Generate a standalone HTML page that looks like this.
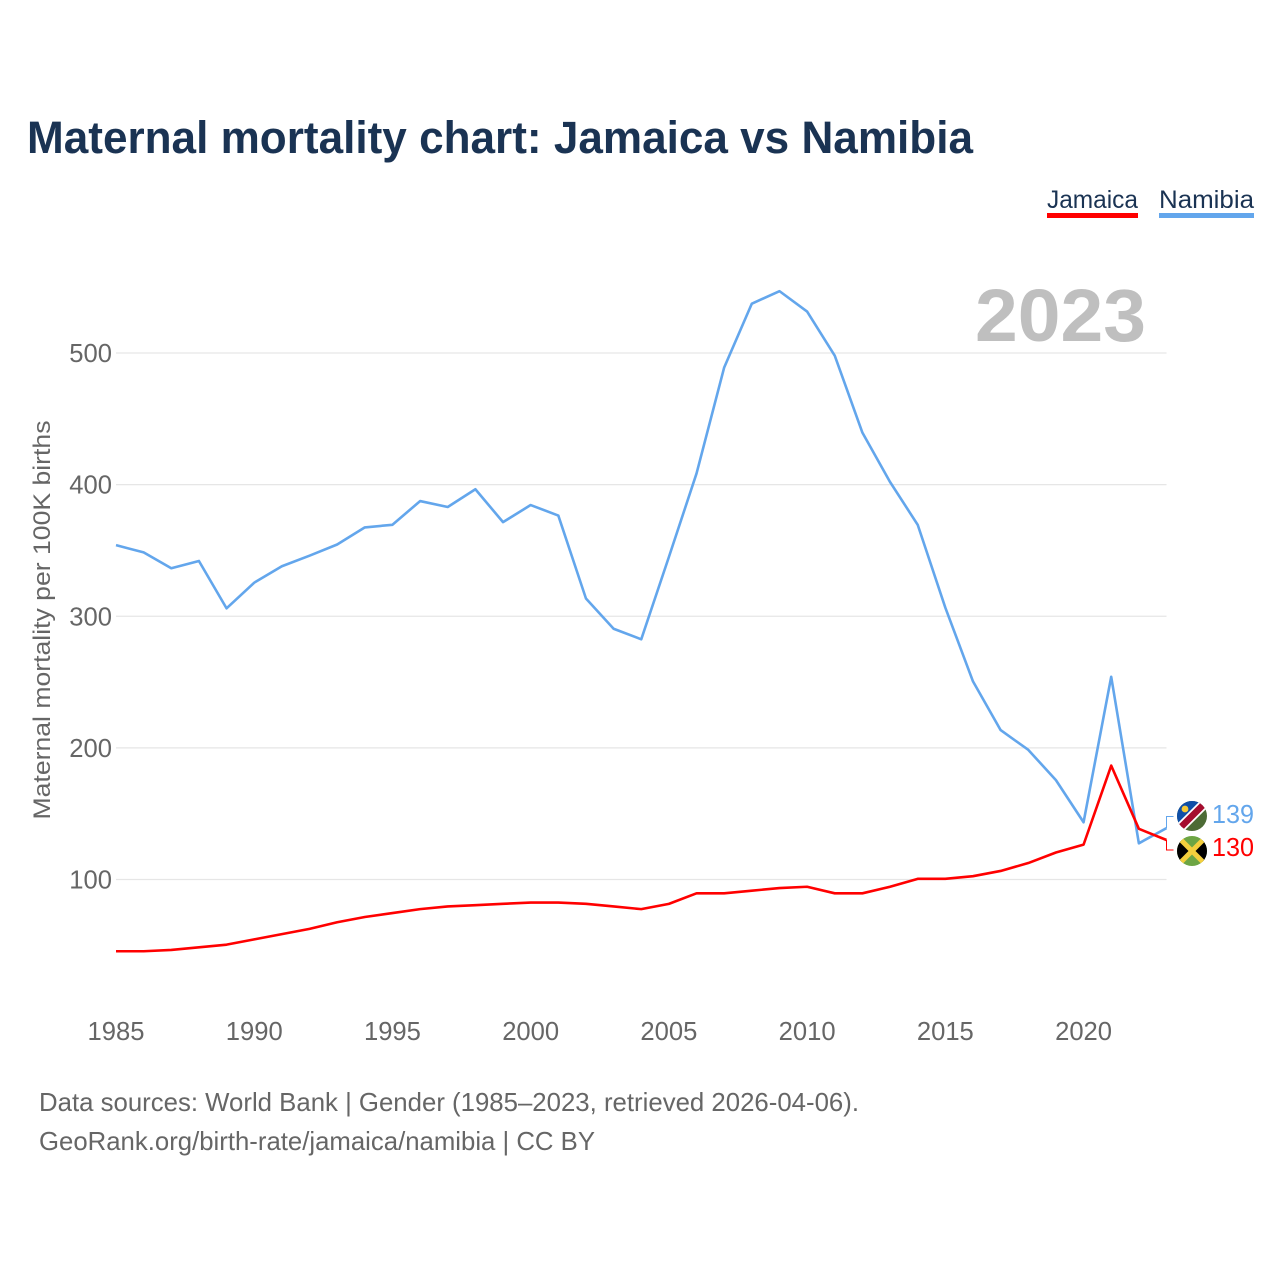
<!DOCTYPE html>
<html lang="en">
<head>
<meta charset="utf-8">
<title>Maternal mortality chart: Jamaica vs Namibia</title>
<style>
html,body{margin:0;padding:0;background:#fff;}
svg{display:block;font-family:"Liberation Sans",sans-serif;}
</style>
</head>
<body>
<svg id="chart" xmlns="http://www.w3.org/2000/svg" width="1280" height="1280" viewBox="0 0 1280 1280">
  <rect x="0" y="0" width="1280" height="1280" fill="#ffffff"/>
  <text x="27" y="153" font-size="45" font-weight="700" fill="#1a3353" textLength="946" lengthAdjust="spacingAndGlyphs">Maternal mortality chart: Jamaica vs Namibia</text>

  <g>
    <text x="1047" y="208" font-size="25" fill="#1a3353" textLength="91" lengthAdjust="spacingAndGlyphs">Jamaica</text>
    <rect x="1047" y="213" width="91" height="5" fill="#ff0000"/>
  </g>
  <g>
    <text x="1159" y="208" font-size="25" fill="#1a3353" textLength="95" lengthAdjust="spacingAndGlyphs">Namibia</text>
    <rect x="1159" y="213" width="95" height="5" fill="#63a6ec"/>
  </g>

  <g id="grid"></g>
  <g id="yticks"></g>
  <g id="xticks"></g>

  <text transform="translate(50,620) rotate(-90)" text-anchor="middle" font-size="24" fill="#666666" textLength="399" lengthAdjust="spacingAndGlyphs">Maternal mortality per 100K births</text>
  <text x="975" y="341" font-size="74" font-weight="700" fill="#bfbfbf" textLength="171" lengthAdjust="spacingAndGlyphs">2023</text>

  <g id="series"></g>

  <defs>
    <clipPath id="clip-namibia"><circle cx="1192" cy="816" r="15"/></clipPath>
    <clipPath id="clip-jamaica"><circle cx="1192" cy="851" r="15"/></clipPath>
  </defs>

  <g clip-path="url(#clip-namibia)">
    <rect x="1177" y="801" width="30" height="30" fill="#4d6b35"/>
    <polygon points="1177,801 1207,801 1177,831" fill="#0f4fa8"/>
    <line x1="1175" y1="833" x2="1209" y2="799" stroke="#ffffff" stroke-width="10"/>
    <line x1="1175" y1="833" x2="1209" y2="799" stroke="#a50d2e" stroke-width="6.5"/>
    <circle cx="1185" cy="809" r="3.4" fill="#f6c935"/>
  </g>
  <g clip-path="url(#clip-jamaica)">
    <rect x="1177" y="836" width="30" height="30" fill="#6da544"/>
    <polygon points="1177,836 1192,851 1177,866" fill="#000000"/>
    <polygon points="1207,836 1192,851 1207,866" fill="#000000"/>
    <line x1="1177" y1="836" x2="1207" y2="866" stroke="#f4cf3d" stroke-width="5"/>
    <line x1="1207" y1="836" x2="1177" y2="866" stroke="#f4cf3d" stroke-width="5"/>
  </g>

  <text x="1212" y="823" font-size="26" fill="#63a6ec" textLength="42" lengthAdjust="spacingAndGlyphs">139</text>
  <text x="1212" y="856" font-size="26" fill="#ff0000" textLength="42" lengthAdjust="spacingAndGlyphs">130</text>

  <text x="39" y="1111" font-size="26" fill="#666666" textLength="820" lengthAdjust="spacingAndGlyphs">Data sources: World Bank | Gender (1985–2023, retrieved 2026-04-06).</text>
  <text x="39" y="1150" font-size="26" fill="#666666" textLength="556" lengthAdjust="spacingAndGlyphs">GeoRank.org/birth-rate/jamaica/namibia | CC BY</text>
</svg>

<script>
const years = [1985,1986,1987,1988,1989,1990,1991,1992,1993,1994,1995,1996,1997,1998,1999,2000,2001,2002,2003,2004,2005,2006,2007,2008,2009,2010,2011,2012,2013,2014,2015,2016,2017,2018,2019,2020,2021,2022,2023];
const namibia = [354,348.5,336.5,342,306,325.5,338,346,354.5,367.5,369.5,387.5,383,396.5,371.5,384.5,376.5,313.5,290.5,282.5,345,408.5,489,537.5,547,531.5,498,439.5,402,369.5,306.5,250.5,213.5,198.5,175.5,143.5,254,127.5,139];
const jamaica = [45.5,45.5,46.5,48.5,50.5,54.5,58.5,62.5,67.5,71.5,74.5,77.5,79.5,80.5,81.5,82.5,82.5,81.5,79.5,77.5,81.5,89.5,89.5,91.5,93.5,94.5,89.5,89.5,94.5,100.5,100.5,102.5,106.5,112.5,120.5,126.5,186.5,138.5,130];
const yTickValues = [100,200,300,400,500];
const xTickValues = [1985,1990,1995,2000,2005,2010,2015,2020];

const NS = 'http://www.w3.org/2000/svg';
const plotLeft = 116, plotRight = 1166.5, y100 = 879.5, y500 = 353;
function xScale(year) {
  return plotLeft + (year - years[0]) * (plotRight - plotLeft) / (years[years.length - 1] - years[0]);
}
function yScale(v) {
  return y100 + (v - 100) * (y500 - y100) / 400;
}
function make(tag, attrs) {
  const el = document.createElementNS(NS, tag);
  for (const k in attrs) el.setAttribute(k, attrs[k]);
  return el;
}
const grid = document.getElementById('grid');
const yticks = document.getElementById('yticks');
const xticks = document.getElementById('xticks');
const series = document.getElementById('series');

yTickValues.forEach(function (v) {
  const line = make('line', {x1: plotLeft, x2: plotRight, y1: yScale(v), y2: yScale(v), stroke: '#e6e6e6', 'stroke-width': 1.3});
  
  
  grid.appendChild(line);
  const t = make('text', {x: 112, y: yScale(v) + 9, 'text-anchor': 'end', 'font-size': 25.6, fill: '#666666'});
  
  
  t.textContent = v;
  yticks.appendChild(t);
});

xTickValues.forEach(function (v) {
  const t = make('text', {x: xScale(v), y: 1040, 'text-anchor': 'middle', 'font-size': 25.6, fill: '#666666'});
  
  
  t.textContent = v;
  xticks.appendChild(t);
});

function pointsOf(values) {
  return values.map(function (v, i) {
    return xScale(years[i]).toFixed(2) + ',' + yScale(v).toFixed(2);
  }).join(' ');
}
function connector(values, labelY) {
  const last = values[values.length - 1];
  const x = xScale(years[years.length - 1]);
  return x.toFixed(2) + ',' + yScale(last).toFixed(2) + ' ' + x.toFixed(2) + ',' + labelY + ' ' + (x + 7).toFixed(2) + ',' + labelY;
}

const namibiaLine = make('polyline', {points: pointsOf(namibia), fill: 'none', stroke: '#63a6ec', 'stroke-width': 2.6, 'stroke-linejoin': 'round'});


series.appendChild(namibiaLine);

const jamaicaLine = make('polyline', {points: pointsOf(jamaica), fill: 'none', stroke: '#ff0000', 'stroke-width': 2.6, 'stroke-linejoin': 'round'});


series.appendChild(jamaicaLine);

const namibiaConnector = make('polyline', {points: connector(namibia, 816.5), fill: 'none', stroke: '#63a6ec', 'stroke-width': 1});


series.appendChild(namibiaConnector);

const jamaicaConnector = make('polyline', {points: connector(jamaica, 850), fill: 'none', stroke: '#ff0000', 'stroke-width': 1});


series.appendChild(jamaicaConnector);
</script>
</body>
</html>
